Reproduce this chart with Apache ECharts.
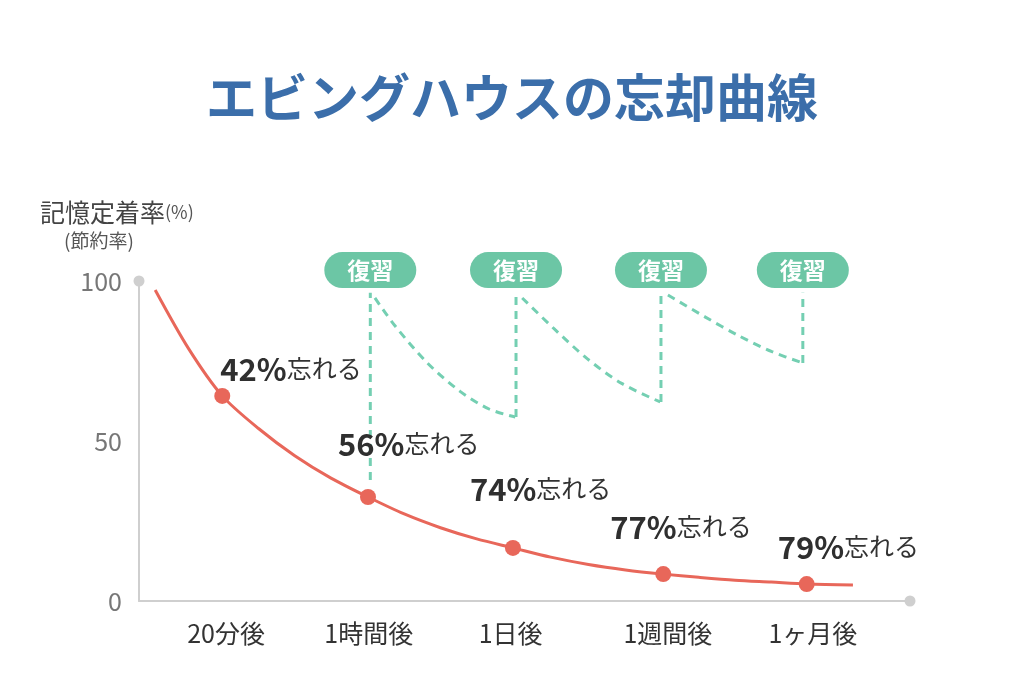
<!DOCTYPE html>
<html>
<head>
<meta charset="utf-8">
<script src="https://cdn.jsdelivr.net/npm/echarts@6/dist/echarts.min.js"></script>
<style>html,body{margin:0;padding:0;background:#fff;}#c{width:1024px;height:686px;}</style>
</head>
<body>
<div id="c"></div>
<script>
// ---- data ----
var categories = ['20分後', '1時間後', '1日後', '1週間後', '1ヶ月後'];
var categoryPos = [11.3, 29.8, 48.2, 68.6, 87.4];          // x positions of the tick labels (axis units)
var pointX = [10.8, 29.7, 48.5, 68.0, 86.6];              // x of the marked points
var retention = [64.1, 32.5, 16.6, 8.4, 5.3];             // 記憶定着率 (%)
var forgetLabels = ['42%', '56%', '74%', '77%', '79%'];
var curveX = [2.1, 6.45, 10.8, 15.5, 20.2, 24.9, 29.7, 34.4, 39.1, 43.8, 48.5, 53.4, 58.3, 63.1, 68.0, 72.6, 77.3, 82.0, 86.6, 92.6];
var curveY = [97.2, 78.8, 64.1, 53.9, 45.4, 38.4, 32.5, 27.2, 22.9, 19.4, 16.6, 13.7, 11.4, 9.7, 8.4, 7.4, 6.5, 5.9, 5.3, 5.0];
var reviewX = [30.0, 48.9, 67.7, 86.1];
var reviewTop = 96.3;
var reviewBottom = [37.8, 57.5, 62.2, 74.4];
var reviewCurves = [
  [[30.6, 94.7], [33.2, 86.0], [37.4, 74.4], [41.6, 65.6], [45.4, 60.0], [48.8, 57.5]],
  [[49.7, 94.7], [54.0, 84.7], [58.2, 75.6], [62.6, 68.0], [67.6, 62.2]],
  [[68.6, 95.6], [73.4, 88.8], [77.7, 83.0], [82.1, 77.9], [86.1, 74.4]]
];
var badgeY = 103.4;
var yTicks = [0, 50, 100];

// ---- styles ----
var RED = '#e8675a', GREEN = '#6cc6a5', DASH = '#74cfb2', AXIS = '#cfcfcf';
var labelOffsets = [[-2, 2], [-30, -24], [-43, -30], [-53, -18], [-29, -8]];
var FONT = '"Noto Sans CJK JP", "Noto Sans", sans-serif';

var chart = echarts.init(document.getElementById('c'));

var curveData = curveX.map(function (x, i) { return [x, curveY[i]]; });
var pointData = pointX.map(function (x, i) {
  return {
    value: [x, retention[i]],
    label: { offset: labelOffsets[i], formatter: '{a|' + forgetLabels[i] + '}{b|忘れる}' }
  };
});
var vertData = [];
reviewX.forEach(function (x, i) {
  vertData.push([x, reviewBottom[i]]);
  vertData.push([x, reviewTop]);
  vertData.push('-');
});

var series = [
  {
    type: 'line', smooth: 0.3, showSymbol: false, silent: true,
    data: curveData,
    lineStyle: { color: RED, width: 3 }, z: 3
  },
  {
    type: 'scatter', symbolSize: 16, data: pointData, silent: true,
    itemStyle: { color: RED, opacity: 1 },
    label: {
      show: true, position: 'top', align: 'left', verticalAlign: 'bottom',
      rich: {
        a: { fontSize: 31, fontWeight: 'bold', color: '#2f2f2f', fontFamily: FONT },
        b: { fontSize: 25, color: '#333', fontFamily: FONT, padding: [0, 0, 2, 0] }
      }
    }, z: 5
  },
  {
    type: 'line', showSymbol: false, silent: true, connectNulls: false,
    data: vertData,
    lineStyle: { color: DASH, width: 3, type: [8, 6] }, z: 2
  }
];
reviewCurves.forEach(function (c) {
  series.push({
    type: 'line', smooth: 0.3, showSymbol: false, silent: true,
    data: c, lineStyle: { color: DASH, width: 3, type: [8, 6] }, z: 2
  });
});
series.push({
  type: 'scatter', symbolSize: 0, clip: false, silent: true,
  itemStyle: { opacity: 1 },
  data: reviewX.map(function (x) { return [x, badgeY]; }),
  label: {
    show: true, position: 'inside', formatter: '復習',
    color: '#fff', fontSize: 23, fontWeight: 'bold', fontFamily: FONT,
    backgroundColor: GREEN, borderRadius: 18, padding: [6, 23, 6, 23], lineHeight: 24
  }, z: 6
});
series.push({
  type: 'scatter', symbolSize: 0, clip: false, silent: true,
  itemStyle: { opacity: 1 },
  data: categoryPos.map(function (x, i) { return { value: [x, 0], name: categories[i] }; }),
  label: {
    show: true, position: 'bottom', distance: 20, formatter: '{b}',
    color: '#333', fontSize: 25, fontFamily: FONT
  }
});

chart.setOption({
  animation: false,
  backgroundColor: '#fff',
  grid: { left: 139, right: 114, top: 281, bottom: 85, containLabel: false },
  xAxis: {
    type: 'value', min: 0, max: 100,
    axisLine: { show: true, lineStyle: { color: AXIS, width: 2 }, symbol: ['none', 'circle'], symbolSize: [11, 11] },
    axisTick: { show: false }, axisLabel: { show: false }, splitLine: { show: false }
  },
  yAxis: {
    type: 'value', min: 0, max: 100, interval: 50,
    axisLine: { show: true, lineStyle: { color: AXIS, width: 2 }, symbol: ['none', 'circle'], symbolSize: [11, 11] },
    axisTick: { show: false }, splitLine: { show: false },
    axisLabel: {
      margin: 17, color: '#777', fontSize: 25, fontFamily: FONT,
      formatter: function (v) { return yTicks.indexOf(v) >= 0 ? String(v) : ''; }
    }
  },
  graphic: [
    {
      type: 'text', left: 'center', top: 72,
      style: { text: 'エビングハウスの忘却曲線', fontSize: 51, fontWeight: 'bold', fill: '#3b6eaa', fontFamily: FONT }
    },
    {
      type: 'text', x: 40, y: 212,
      style: {
        text: '{m|記憶定着率}{s|(%)}', textVerticalAlign: 'middle',
        rich: {
          m: { fontSize: 25, fill: '#444', fontFamily: FONT },
          s: { fontSize: 18, fill: '#555', fontFamily: FONT }
        }
      }
    },
    {
      type: 'text', x: 64, y: 241,
      style: { text: '(節約率)', fontSize: 19, fill: '#555', fontFamily: FONT, textVerticalAlign: 'middle' }
    }
  ],
  series: series
});
</script>
</body>
</html>
